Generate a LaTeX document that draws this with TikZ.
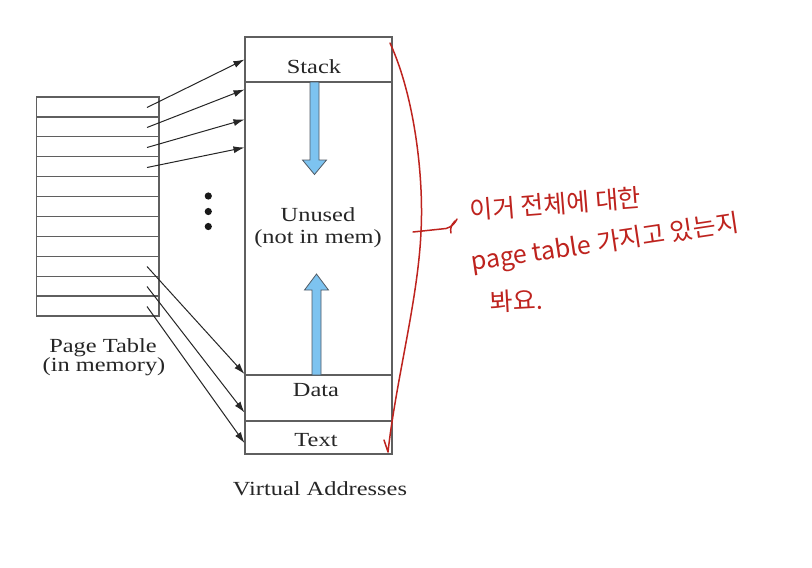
\documentclass[tikz,border=0pt]{standalone}
\usepackage{fontspec}
\setmainfont{Liberation Serif}
\newfontfamily\krfont{Noto Sans CJK KR}
\usetikzlibrary{arrows.meta}
\definecolor{boxgray}{RGB}{95,95,95}
\definecolor{fillblue}{RGB}{125,195,240}
\definecolor{edgeblue}{RGB}{80,90,100}
\definecolor{pen}{RGB}{190,35,30}
\newcommand{\wtxt}[1]{\scalebox{1.22}[1]{#1}}
\tikzset{
  tbl/.style={draw=boxgray,line width=1.2pt},
  seg/.style={draw=boxgray,line width=1.2pt},
  lbl/.style={font=\fontsize{20}{24}\selectfont,inner sep=0pt,anchor=base,text=black!85},
  ptr/.style={draw=black!85,line width=1pt,-{Latex[length=11pt,width=7pt]}},
  bluearrow/.style={fill=fillblue,draw=edgeblue,line width=0.8pt},
  pensty/.style={draw=pen,line width=1.5pt,line cap=round,line join=round},
  hand/.style={font=\krfont\fontsize{25}{28}\selectfont,text=pen,inner sep=0pt,anchor=base west}
}
\begin{document}
\begin{tikzpicture}[x=1pt,y=-1pt]
\useasboundingbox[fill=white] (0,0) rectangle (812,568);

% page table
\draw[tbl] (36.7,97) rectangle (159,316);
\foreach \k in {1,...,10}{
  \draw[tbl] (36.7,97+19.9*\k) -- (159,97+19.9*\k);
}
\node[lbl] (pt1) at (103,352) {\wtxt{Page Table}};
\node[lbl] (pt2) at (104,371) {\wtxt{(in memory)}};

% virtual address segments
\node[seg,minimum width=147pt,minimum height=45pt,inner sep=0pt] (stack) at (318.5,59.5) {};
\node[seg,minimum width=147pt,minimum height=293pt,inner sep=0pt] (unused) at (318.5,228.5) {};
\node[seg,minimum width=147pt,minimum height=46pt,inner sep=0pt] (data) at (318.5,398) {};
\node[seg,minimum width=147pt,minimum height=33pt,inner sep=0pt] (textseg) at (318.5,437.5) {};

\node[lbl] (stacklbl) at (314,73) {\wtxt{Stack}};
\node[lbl] (un1) at (318,221) {\wtxt{Unused}};
\node[lbl] (un2) at (318,243) {\wtxt{(not in mem)}};
\node[lbl] (datalbl) at (316,396) {\wtxt{Data}};
\node[lbl] (textlbl) at (316,446) {\wtxt{Text}};
\node[lbl] (va) at (320,495.5) {\wtxt{Virtual Addresses}};

% blue arrows
\draw[bluearrow] (310,82) -- (310,160) -- (302.5,160) -- (314.5,174.5) -- (326.5,160) -- (319,160) -- (319,82) -- cycle;
\draw[bluearrow] (312,375) -- (312,290) -- (304.5,290) -- (316.5,274) -- (328.5,290) -- (321,290) -- (321,375) -- cycle;

% dots
\foreach \yy [count=\i] in {196,211.5,226.5}{
  \fill[black!90] (208.3,\yy) circle (3.6pt) coordinate (dot\i);
}

% pointers
\coordinate (s1) at (147,107.5);
\coordinate (s2) at (147,127.5);
\coordinate (s3) at (147,147.5);
\coordinate (s4) at (147,167.5);
\coordinate (s5) at (147,266.5);
\coordinate (s6) at (147,286.5);
\coordinate (s7) at (147,306.5);
\coordinate (e1) at (244.5,59.5);
\coordinate (e2) at (244.5,89.5);
\coordinate (e3) at (244.5,119.5);
\coordinate (e4) at (244.5,147.5);
\coordinate (e5) at (244.5,374);
\coordinate (e6) at (244.5,412.5);
\coordinate (e7) at (244.5,443);
\foreach \i in {1,...,7}{
  \draw[ptr] (s\i) -- (e\i);
}

% red handwriting
\coordinate (r0) at (390,43);
\coordinate (r1) at (421,232);
\coordinate (r2) at (388,452);
\coordinate (r3) at (384,440);
\draw[pensty] (r0) .. controls (414,95) and (424,175) .. (r1) .. controls (418,300) and (396,380) .. (r2) -- (r3);
\coordinate (h0) at (413,232);
\coordinate (h1) at (446,228.5);
\draw[pensty] (h0) -- (h1) .. controls (452,227) and (455,223) .. (457,219);
\draw[pensty] (455,221) .. controls (451,225) and (450,229) .. (451,233);

\node[hand,rotate=4.5] (n1) at (470,220) {이거 전체에 대한};
\node[hand,rotate=8.5] (n2) at (472,271) {page table 가지고 있는지};
\node[hand,rotate=3] (n3) at (490,312) {봐요.};
\end{tikzpicture}
\end{document}
